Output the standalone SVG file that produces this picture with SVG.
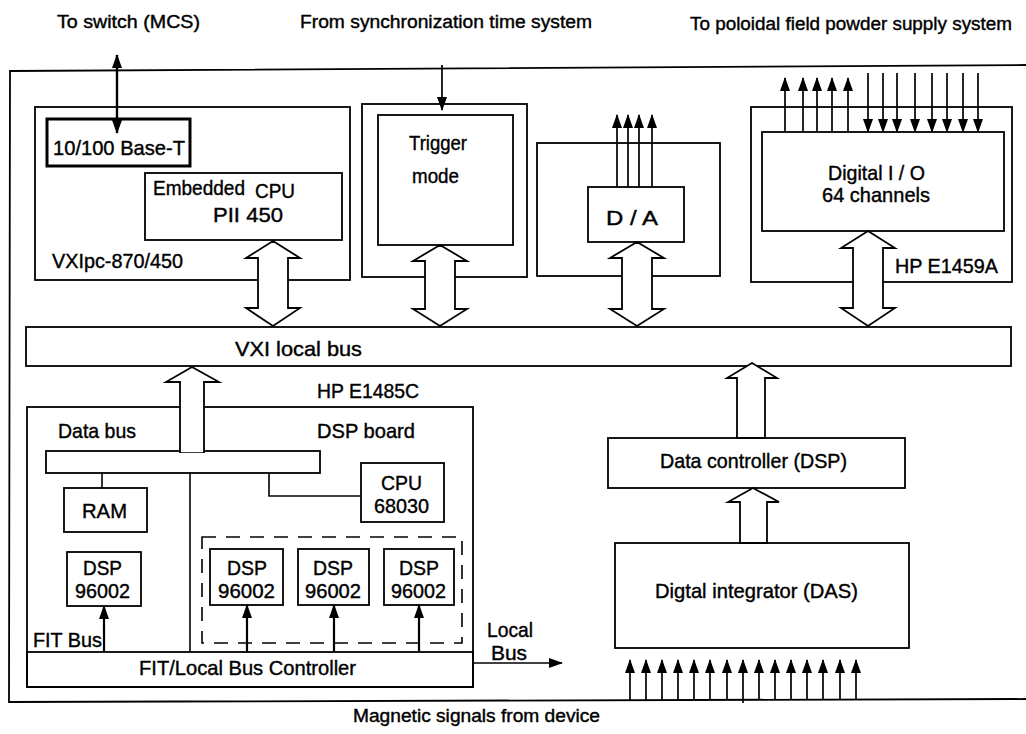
<svg xmlns="http://www.w3.org/2000/svg" width="1026" height="734" viewBox="0 0 1026 734">
<style>
  .b{fill:none;stroke:#000;stroke-width:1.8}
  .w{fill:#fff;stroke:#000;stroke-width:1.8}
  .ln{fill:none;stroke:#000;stroke-width:1.6}
  .ar{fill:none;stroke:#000;stroke-width:1.7;marker-end:url(#ah)}
  .da{fill:none;stroke:#000;stroke-width:1.6;stroke-dasharray:14 10}
  text{font-family:"Liberation Sans",Arial,sans-serif;font-size:21px;fill:#000;stroke:#000;stroke-width:0.4}
  .t{font-size:18px}
</style>
<defs>
  <marker id="ah" markerUnits="userSpaceOnUse" markerWidth="14" markerHeight="10" refX="13" refY="5" orient="auto" viewBox="0 0 14 10">
    <path d="M0,0 L14,5 L0,10 Z" fill="#000"/>
  </marker>
</defs>
<rect width="1026" height="734" fill="#fff"/>

<!-- outer frame -->
<g id="frame">
  <path class="b" d="M1026,65 L10,71 L9,702 L1026,699"/>
</g>

<!-- top labels -->
<g id="labels-top">
  <text class="t" x="57" y="28" textLength="143" lengthAdjust="spacingAndGlyphs">To switch  (MCS)</text>
  <text class="t" x="300" y="28" textLength="292" lengthAdjust="spacingAndGlyphs">From synchronization time system</text>
  <text class="t" x="690" y="30" textLength="322" lengthAdjust="spacingAndGlyphs">To poloidal field powder supply system</text>
</g>

<!-- VXIpc module -->
<g id="vxipc">
  <rect class="b" x="35" y="107" width="315" height="173"/>
  <rect x="47" y="119" width="143" height="47" fill="#fff" stroke="#000" stroke-width="3"/>
  <text x="53" y="155" textLength="132" lengthAdjust="spacingAndGlyphs">10/100  Base-T</text>
  <rect class="b" x="145" y="173" width="197" height="67"/>
  <text x="153" y="195" textLength="92" lengthAdjust="spacingAndGlyphs">Embedded</text>
  <text x="255" y="198" textLength="40" lengthAdjust="spacingAndGlyphs">CPU</text>
  <text x="213" y="222" textLength="70" lengthAdjust="spacingAndGlyphs">PII   450</text>
  <text x="52" y="268" textLength="131" lengthAdjust="spacingAndGlyphs">VXIpc-870/450</text>
</g>

<!-- Trigger module -->
<g id="trigger">
  <rect class="b" x="362" y="104" width="165" height="173"/>
  <rect class="b" x="378" y="115" width="135" height="130"/>
  <text x="409" y="150" textLength="58" lengthAdjust="spacingAndGlyphs">Trigger</text>
  <text x="412" y="183" textLength="47" lengthAdjust="spacingAndGlyphs">mode</text>
</g>

<!-- D/A module -->
<g id="da">
  <rect class="b" x="537" y="143" width="183" height="133"/>
  <rect class="b" x="588" y="187" width="96" height="55"/>
  <text x="606" y="225" textLength="52" lengthAdjust="spacingAndGlyphs">D / A</text>
</g>

<!-- Digital I/O module -->
<g id="dio">
  <rect class="b" x="751" y="107" width="261" height="175"/>
  <rect class="b" x="762" y="132" width="242" height="99"/>
  <text x="828" y="180" textLength="97" lengthAdjust="spacingAndGlyphs">Digital  I / O</text>
  <text x="822" y="202" textLength="108" lengthAdjust="spacingAndGlyphs">64  channels</text>
  <text x="895" y="273" textLength="103" lengthAdjust="spacingAndGlyphs">HP E1459A</text>
</g>

<!-- VXI local bus -->
<g id="vxibus">
  <rect class="b" x="26" y="327" width="985" height="39"/>
  <text x="235" y="356" textLength="127" lengthAdjust="spacingAndGlyphs">VXI  local  bus</text>
</g>

<!-- DSP board -->
<g id="dspboard">
  <rect class="b" x="27" y="407" width="446" height="280"/>
  <text x="317" y="398" textLength="102" lengthAdjust="spacingAndGlyphs">HP E1485C</text>
  <text x="58" y="438" textLength="78" lengthAdjust="spacingAndGlyphs">Data bus</text>
  <text x="317" y="438" textLength="98" lengthAdjust="spacingAndGlyphs">DSP board</text>
</g>
<g id="databus">
  <rect class="w" x="46" y="451" width="274" height="22"/>
</g>
<g id="ram">
  <rect class="b" x="64" y="488" width="83" height="44"/>
  <text x="82" y="518" textLength="45" lengthAdjust="spacingAndGlyphs">RAM</text>
</g>
<g id="cpu68030">
  <rect class="b" x="361" y="463" width="83" height="59"/>
  <text x="381" y="490" textLength="41" lengthAdjust="spacingAndGlyphs">CPU</text>
  <text x="374" y="513" textLength="55" lengthAdjust="spacingAndGlyphs">68030</text>
</g>
<g id="dsp0">
  <rect class="b" x="67" y="552" width="74" height="54"/>
  <text x="83" y="575" textLength="39" lengthAdjust="spacingAndGlyphs">DSP</text>
  <text x="75" y="598" textLength="55" lengthAdjust="spacingAndGlyphs">96002</text>
</g>
<g id="dspgroup">
  <rect class="da" x="202" y="537" width="260" height="106"/>
</g>
<g id="dsp1">
  <rect class="b" x="210" y="549" width="73" height="56"/>
  <text x="227" y="575" textLength="40" lengthAdjust="spacingAndGlyphs">DSP</text>
  <text x="218" y="598" textLength="57" lengthAdjust="spacingAndGlyphs">96002</text>
</g>
<g id="dsp2">
  <rect class="b" x="298" y="549" width="71" height="56"/>
  <text x="313" y="575" textLength="40" lengthAdjust="spacingAndGlyphs">DSP</text>
  <text x="305" y="598" textLength="56" lengthAdjust="spacingAndGlyphs">96002</text>
</g>
<g id="dsp3">
  <rect class="b" x="384" y="549" width="70" height="56"/>
  <text x="399" y="575" textLength="40" lengthAdjust="spacingAndGlyphs">DSP</text>
  <text x="391" y="598" textLength="55" lengthAdjust="spacingAndGlyphs">96002</text>
</g>
<g id="controller">
  <rect class="b" x="27" y="652" width="446" height="35"/>
  <text x="139" y="675" textLength="217" lengthAdjust="spacingAndGlyphs">FIT/Local  Bus  Controller</text>
  <text x="33" y="647" textLength="69" lengthAdjust="spacingAndGlyphs">FIT  Bus</text>
</g>

<!-- right chain -->
<g id="datacontroller">
  <rect class="b" x="608" y="438" width="297" height="50"/>
  <text x="660" y="468" textLength="187" lengthAdjust="spacingAndGlyphs">Data controller  (DSP)</text>
</g>
<g id="das">
  <rect class="b" x="615" y="543" width="294" height="105"/>
  <text x="655" y="598" textLength="203" lengthAdjust="spacingAndGlyphs">Digtal  integrator  (DAS)</text>
</g>

<g id="labels-bottom">
  <text x="487" y="637" textLength="46" lengthAdjust="spacingAndGlyphs">Local</text>
  <text x="491" y="660" textLength="36" lengthAdjust="spacingAndGlyphs">Bus</text>
  <text class="t" x="353" y="722" textLength="247" lengthAdjust="spacingAndGlyphs">Magnetic signals from device</text>
</g>

<!-- connectors -->
<g id="connectors">
  <!-- to switch, double-headed -->
  <line class="ar" x1="117" y1="95" x2="117" y2="55" style="stroke-width:2.4"/>
  <line class="ar" x1="117" y1="95" x2="117" y2="133" style="stroke-width:2.4"/>
  <!-- sync into trigger -->
  <line class="ar" x1="442" y1="65" x2="442" y2="110"/>
  <!-- D/A outputs -->
  <line class="ar" x1="617" y1="187" x2="617" y2="115"/>
  <line class="ar" x1="628" y1="187" x2="628" y2="115"/>
  <line class="ar" x1="639" y1="187" x2="639" y2="115"/>
  <line class="ar" x1="652" y1="187" x2="652" y2="115"/>
  <!-- Digital I/O up -->
  <line class="ar" x1="785" y1="132" x2="785" y2="78"/>
  <line class="ar" x1="803" y1="132" x2="803" y2="78"/>
  <line class="ar" x1="817" y1="132" x2="817" y2="78"/>
  <line class="ar" x1="832" y1="132" x2="832" y2="78"/>
  <line class="ar" x1="848" y1="132" x2="848" y2="78"/>
  <!-- Digital I/O down -->
  <line class="ar" x1="868" y1="73" x2="868" y2="132"/>
  <line class="ar" x1="883" y1="73" x2="883" y2="132"/>
  <line class="ar" x1="897" y1="73" x2="897" y2="132"/>
  <line class="ar" x1="915" y1="73" x2="915" y2="132"/>
  <line class="ar" x1="932" y1="73" x2="932" y2="132"/>
  <line class="ar" x1="947" y1="73" x2="947" y2="132"/>
  <line class="ar" x1="963" y1="73" x2="963" y2="132"/>
  <line class="ar" x1="978" y1="73" x2="978" y2="132"/>

  <!-- hollow double arrows to VXI bus -->
  <path class="w" d="M273,241 L300,258 L288,258 L288,308 L300,308 L273,326 L246,308 L258,308 L258,258 L246,258 Z"/>
  <path class="w" d="M440,245 L467,261 L455,261 L455,309 L467,309 L440,326 L413,309 L425,309 L425,261 L413,261 Z"/>
  <path class="w" d="M637,242 L664,258 L652,258 L652,309 L664,309 L637,326 L610,309 L622,309 L622,258 L610,258 Z"/>
  <path class="w" d="M868,231 L895,248 L883,248 L883,308 L895,308 L868,326 L841,308 L853,308 L853,248 L841,248 Z"/>

  <!-- DSP board hollow arrow to VXI bus -->
  <path class="w" d="M192,367 L219,382 L204,382 L204,452 L180,452 L180,382 L166,382 Z"/>
  <line x1="181" y1="451" x2="203" y2="451" stroke="#fff" stroke-width="2.5"/>

  <!-- data bus links -->
  <line class="ln" x1="102" y1="473" x2="102" y2="488"/>
  <line class="ln" x1="190" y1="473" x2="190" y2="652"/>
  <polyline class="ln" points="269,473 269,496 361,496"/>

  <!-- FIT bus arrows -->
  <line class="ar" x1="104" y1="652" x2="104" y2="606" style="stroke-width:2.2"/>
  <line class="ar" x1="247" y1="652" x2="247" y2="605" style="stroke-width:2.2"/>
  <line class="ar" x1="334" y1="652" x2="334" y2="605" style="stroke-width:2.2"/>
  <line class="ar" x1="419" y1="652" x2="419" y2="605" style="stroke-width:2.2"/>

  <!-- local bus out -->
  <line class="ar" x1="473" y1="663" x2="562" y2="663"/>

  <!-- right chain hollow arrows -->
  <path class="w" d="M752,363 L777,378 L765,378 L765,438 L737,438 L737,378 L727,378 Z"/>
  <path class="w" d="M753,488 L779,502 L767,502 L767,543 L740,543 L740,502 L728,502 Z"/>

  <!-- magnetic signals into DAS -->
  <line class="ar" x1="630" y1="700" x2="630" y2="660"/>
  <line class="ar" x1="646" y1="700" x2="646" y2="660"/>
  <line class="ar" x1="662" y1="700" x2="662" y2="660"/>
  <line class="ar" x1="678" y1="700" x2="678" y2="660"/>
  <line class="ar" x1="694" y1="700" x2="694" y2="660"/>
  <line class="ar" x1="710" y1="700" x2="710" y2="660"/>
  <line class="ar" x1="727" y1="700" x2="727" y2="660"/>
  <line class="ar" x1="743" y1="703" x2="743" y2="660"/>
  <line class="ar" x1="759" y1="700" x2="759" y2="660"/>
  <line class="ar" x1="775" y1="700" x2="775" y2="660"/>
  <line class="ar" x1="791" y1="700" x2="791" y2="660"/>
  <line class="ar" x1="807" y1="700" x2="807" y2="660"/>
  <line class="ar" x1="823" y1="700" x2="823" y2="660"/>
  <line class="ar" x1="840" y1="700" x2="840" y2="660"/>
  <line class="ar" x1="856" y1="700" x2="856" y2="660"/>
</g>
</svg>
